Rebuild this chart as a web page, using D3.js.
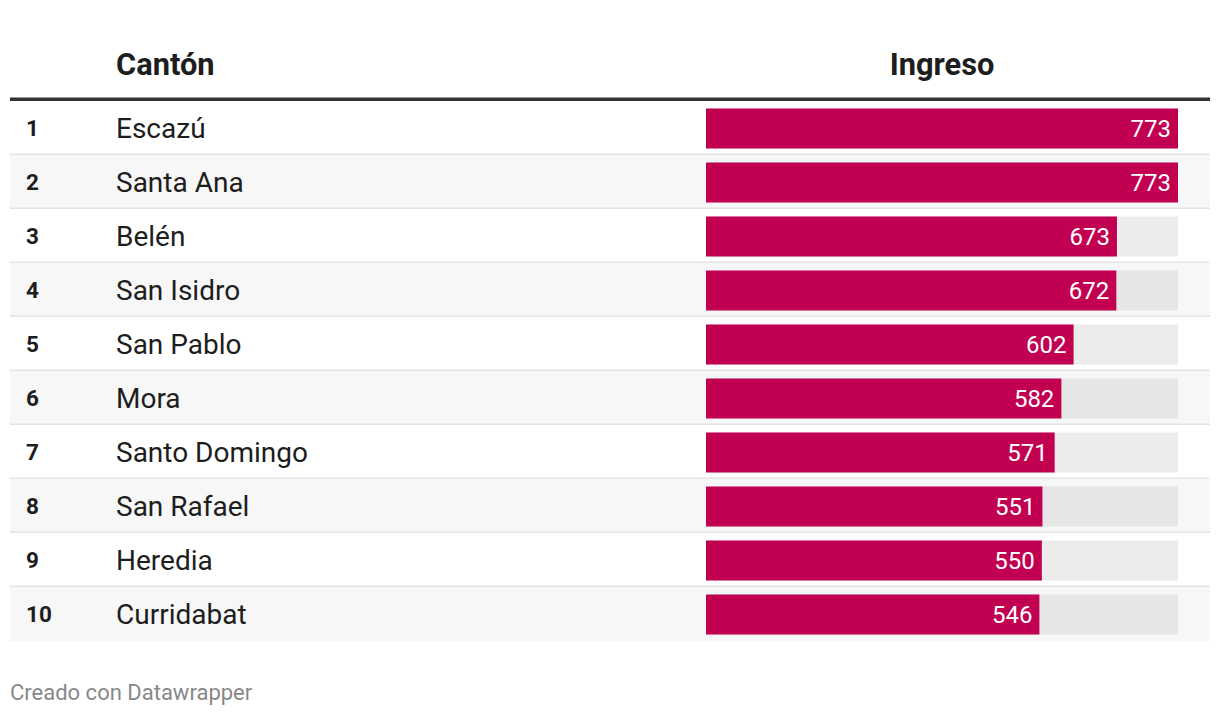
<!DOCTYPE html>
<html>
<head>
<meta charset="utf-8">
<script src="https://cdn.jsdelivr.net/npm/d3@7"></script>
<style>
  html, body { margin: 0; padding: 0; background: #fff; }
  svg { display: block; font-family: Roboto, "Noto Sans", sans-serif; }
</style>
</head>
<body>
<svg id="chart" width="1220" height="716"></svg>
<script>
const ranks = [1, 2, 3, 4, 5, 6, 7, 8, 9, 10];
const cantones = ["Escazú", "Santa Ana", "Belén", "San Isidro", "San Pablo", "Mora", "Santo Domingo", "San Rafael", "Heredia", "Curridabat"];
const ingreso = [773, 773, 673, 672, 602, 582, 571, 551, 550, 546];
const headers = ["Cantón", "Ingreso"];
const footer = "Creado con Datawrapper";

const svg = d3.select("#chart");
const tblLeft = 10, tblRight = 1210;
const tblTop = 101, rowH = 54;

const y = d3.scaleBand()
  .domain(d3.range(cantones.length))
  .range([tblTop, tblTop + rowH * cantones.length])
  .padding(0);

const x = d3.scaleLinear()
  .domain([0, d3.max(ingreso)])
  .range([706, 1178]);

const rows = svg.append("g").selectAll("g.row")
  .data(cantones.map((c, i) => ({ c, i, r: ranks[i], v: ingreso[i] })))
  .join("g").attr("class", "row");

// row backgrounds
rows.append("rect")
  .attr("x", tblLeft).attr("width", tblRight - tblLeft)
  .attr("y", d => y(d.i)).attr("height", y.bandwidth())
  .attr("fill", d => d.i % 2 === 1 ? "#f7f7f7" : "#ffffff");

// separators
rows.filter(d => d.i < cantones.length - 1).append("rect")
  .attr("x", tblLeft).attr("width", tblRight - tblLeft)
  .attr("y", d => y(d.i) + y.bandwidth() - 1.5).attr("height", 1.5)
  .attr("fill", "#e4e4e4");

const barH = 40;
const cy = d => y(d.i) + y.bandwidth() / 2 + 0.5;

// background bars
rows.append("rect")
  .attr("x", x(0)).attr("width", x.range()[1] - x(0))
  .attr("y", d => cy(d) - barH / 2).attr("height", barH)
  .attr("fill", d => d.i % 2 === 1 ? "#e6e6e6" : "#ececec");

// value bars
rows.append("rect")
  .attr("x", x(0)).attr("width", d => x(d.v) - x(0))
  .attr("y", d => cy(d) - barH / 2).attr("height", barH)
  .attr("fill", "#c20052");

// value labels
rows.append("text")
  .attr("x", d => x(d.v) - 7)
  .attr("y", d => cy(d) + 8.5)
  .attr("text-anchor", "end")
  .attr("font-size", 24)
  .attr("fill", "#ffffff")
  .text(d => d.v);

// rank
rows.append("text")
  .attr("x", 26)
  .attr("y", d => cy(d) + 7.5)
  .attr("font-size", 22.5)
  .attr("font-weight", "bold")
  .attr("fill", "#1d1d1d")
  .text(d => d.r);

// names
rows.append("text")
  .attr("x", 116)
  .attr("y", d => cy(d) + 9.5)
  .attr("font-size", 28)
  .attr("fill", "#1d1d1d")
  .text(d => d.c);

// header
svg.append("text")
  .attr("x", 116).attr("y", 75)
  .attr("font-size", 30.8).attr("font-weight", "bold").attr("fill", "#1d1d1d")
  .text(headers[0]);
svg.append("text")
  .attr("x", (x.range()[0] + x.range()[1]) / 2).attr("y", 75)
  .attr("text-anchor", "middle")
  .attr("font-size", 30.8).attr("font-weight", "bold").attr("fill", "#1d1d1d")
  .text(headers[1]);

svg.append("rect")
  .attr("x", tblLeft).attr("width", tblRight - tblLeft)
  .attr("y", 97.5).attr("height", 3.5)
  .attr("fill", "#333333");

// footer
svg.append("text")
  .attr("x", 10).attr("y", 699.5)
  .attr("font-size", 22).attr("fill", "#888888")
  .text(footer);
</script>
</body>
</html>
